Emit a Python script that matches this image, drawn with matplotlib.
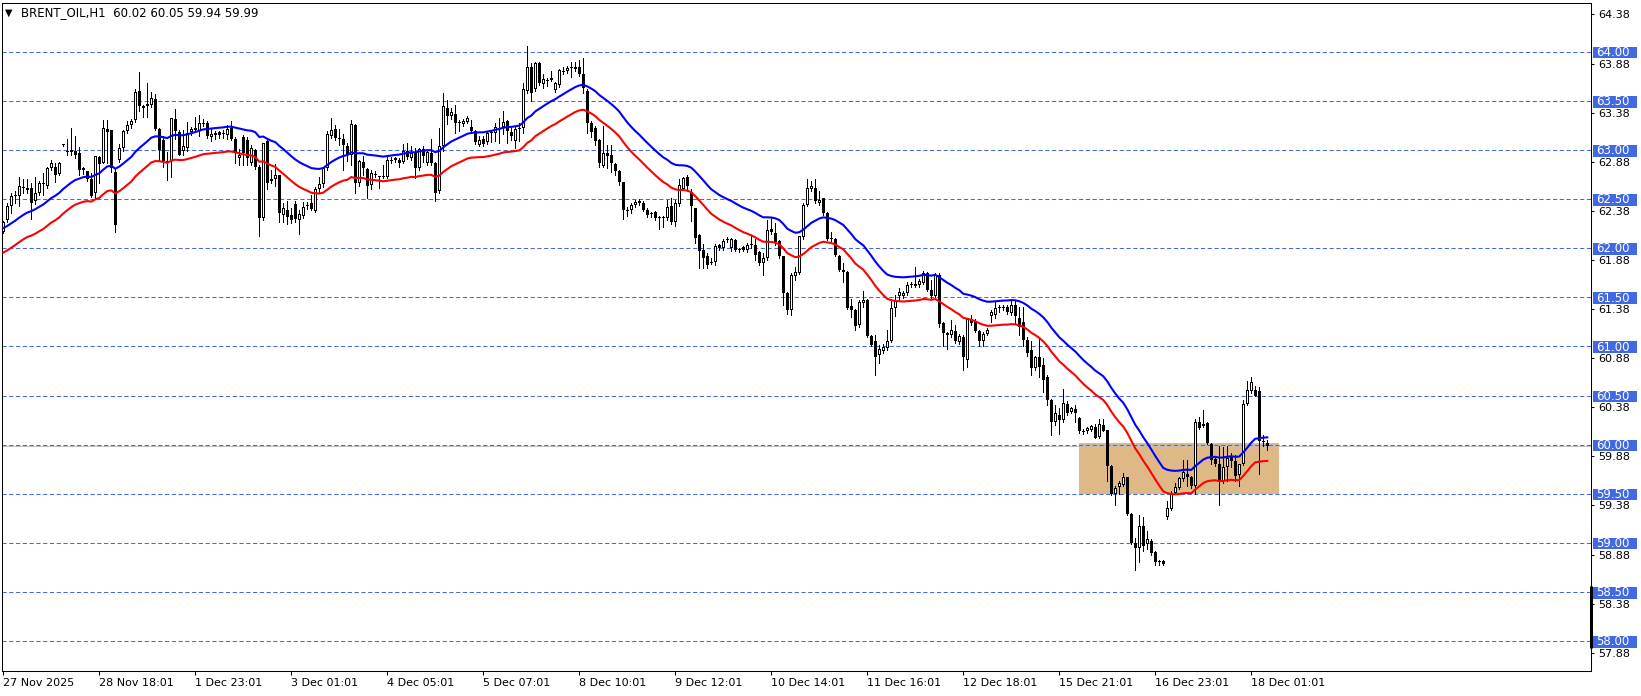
import numpy as np
import matplotlib
matplotlib.use("Agg")
import matplotlib.pyplot as plt
from matplotlib.patches import Rectangle

SYMBOL = "BRENT_OIL,H1"
LAST_OHLC = "60.02 60.05 59.94 59.99"

OPEN = [
    62.17, 62.29, 62.43, 62.53, 62.53, 62.62, 62.61, 62.61, 62.48, 62.56,
    62.65, 62.63, 62.82, 62.83, 62.76, 63.05, 62.98, 62.98, 62.99, 62.97,
    62.82, 62.79, 62.70, 62.56, 62.93, 62.87, 63.21, 63.20, 62.78, 62.90,
    63.02, 63.19, 63.25, 63.31, 63.60, 63.45, 63.45, 63.46, 63.52, 63.21,
    63.10, 62.89, 62.89, 63.32, 63.18, 62.99, 63.02, 63.18, 63.20, 63.19,
    63.26, 63.27, 63.13, 63.15, 63.18, 63.16, 63.15, 63.22, 63.11, 62.92,
    63.13, 63.10, 62.87, 63.00, 62.83, 62.31, 63.09, 62.70, 62.70, 62.75,
    62.34, 62.39, 62.34, 62.45, 62.29, 62.33, 62.43, 62.46, 62.38, 62.60,
    62.65, 62.82, 63.14, 63.21, 63.12, 63.11, 63.04, 62.95, 63.25, 62.66,
    62.88, 62.81, 62.64, 62.76, 62.72, 62.74, 62.72, 62.89, 62.90, 62.90,
    62.88, 62.99, 62.92, 62.98, 62.82, 63.01, 62.87, 62.97, 62.87, 62.58,
    63.04, 63.43, 63.35, 63.37, 63.27, 63.26, 63.29, 63.23, 63.19, 63.05,
    63.11, 63.08, 63.17, 63.17, 63.21, 63.23, 63.30, 63.18, 63.09, 63.21,
    63.22, 63.60, 63.85, 63.62, 63.89, 63.67, 63.70, 63.71, 63.61, 63.66,
    63.80, 63.80, 63.83, 63.82, 63.85, 63.77, 63.60, 63.28, 63.22, 63.10,
    62.84, 62.97, 62.95, 62.86, 62.79, 62.67, 62.39, 62.39, 62.44, 62.46,
    62.46, 62.39, 62.35, 62.37, 62.31, 62.31, 62.31, 62.43, 62.27, 62.45,
    62.60, 62.73, 62.57, 62.41, 62.13, 61.98, 61.92, 61.86, 61.86, 62.03,
    62.00, 62.08, 62.00, 62.08, 61.99, 62.01, 61.98, 62.03, 62.03, 61.96,
    61.85, 61.90, 62.20, 62.15, 62.07, 61.92, 61.54, 61.37, 61.72, 61.75,
    62.11, 62.44, 62.60, 62.61, 62.46, 62.51, 62.36, 62.10, 62.09, 61.92,
    61.78, 61.76, 61.41, 61.37, 61.22, 61.44, 61.47, 61.11, 61.05, 60.91,
    60.95, 60.98, 61.06, 61.39, 61.51, 61.51, 61.54, 61.63, 61.62, 61.63,
    61.65, 61.75, 61.57, 61.51, 61.73, 61.24, 61.14, 61.12, 61.16, 61.04,
    61.10, 60.86, 61.28, 61.26, 61.16, 61.05, 61.13, 61.31, 61.32, 61.39,
    61.39, 61.40, 61.34, 61.42, 61.29, 61.25, 61.07, 60.96, 60.78, 60.89,
    60.81, 60.69, 60.45, 60.23, 60.30, 60.25, 60.41, 60.33, 60.36, 60.27,
    60.14, 60.14, 60.15, 60.18, 60.08, 60.20, 60.15, 59.78, 59.50, 59.57,
    59.59, 59.67, 59.29, 59.00, 58.95, 59.17, 58.99, 59.02, 58.91, 58.80,
    58.81, 59.26, 59.34, 59.51, 59.56, 59.65, 59.70, 59.67, 59.58, 60.23,
    60.19, 60.22, 60.01, 59.85, 59.80, 59.63, 59.77, 59.87, 59.83, 59.69,
    59.80, 60.41, 60.55, 60.56, 60.55, 60.04, 60.02,
]

HIGH = [
    62.28, 62.46, 62.56, 62.58, 62.73, 62.70, 62.70, 62.66, 62.73, 62.68,
    62.77, 62.83, 62.90, 62.87, 62.88, 63.06, 63.11, 63.22, 63.14, 63.03,
    62.83, 62.79, 62.77, 62.94, 62.94, 63.31, 63.31, 63.20, 62.82, 63.06,
    63.20, 63.30, 63.32, 63.62, 63.79, 63.46, 63.68, 63.59, 63.57, 63.22,
    63.14, 62.98, 63.33, 63.42, 63.20, 63.20, 63.29, 63.23, 63.34, 63.36,
    63.32, 63.30, 63.21, 63.19, 63.19, 63.20, 63.25, 63.30, 63.13, 63.01,
    63.15, 63.13, 63.05, 63.01, 62.85, 63.07, 63.11, 62.80, 62.86, 62.75,
    62.46, 62.48, 62.41, 62.48, 62.39, 62.47, 62.47, 62.54, 62.62, 62.72,
    62.83, 63.19, 63.33, 63.25, 63.21, 63.16, 63.07, 63.31, 63.26, 62.90,
    62.94, 62.82, 62.80, 62.79, 62.74, 62.85, 62.94, 62.93, 62.93, 62.92,
    63.06, 63.07, 63.04, 63.02, 63.02, 63.04, 63.00, 63.11, 62.88, 63.22,
    63.58, 63.51, 63.43, 63.46, 63.31, 63.32, 63.35, 63.31, 63.20, 63.14,
    63.14, 63.18, 63.20, 63.27, 63.33, 63.40, 63.31, 63.22, 63.24, 63.28,
    63.68, 64.06, 63.89, 63.90, 63.90, 63.77, 63.73, 63.80, 63.69, 63.82,
    63.85, 63.86, 63.90, 63.90, 63.92, 63.94, 63.62, 63.30, 63.24, 63.11,
    63.24, 63.05, 63.05, 62.87, 62.80, 62.67, 62.42, 62.46, 62.49, 62.50,
    62.48, 62.41, 62.37, 62.38, 62.33, 62.33, 62.49, 62.51, 62.49, 62.70,
    62.73, 62.75, 62.60, 62.41, 62.14, 62.04, 61.95, 61.90, 62.04, 62.04,
    62.09, 62.11, 62.10, 62.09, 62.00, 62.02, 62.05, 62.12, 62.09, 61.97,
    61.95, 62.29, 62.31, 62.26, 62.08, 61.92, 61.55, 61.75, 61.81, 62.12,
    62.46, 62.70, 62.68, 62.70, 62.58, 62.51, 62.37, 62.17, 62.10, 61.93,
    61.85, 61.77, 61.48, 61.38, 61.47, 61.56, 61.48, 61.12, 61.12, 61.01,
    61.02, 61.17, 61.47, 61.52, 61.59, 61.56, 61.66, 61.66, 61.81, 61.69,
    61.77, 61.76, 61.68, 61.75, 61.75, 61.25, 61.15, 61.27, 61.22, 61.13,
    61.12, 61.28, 61.32, 61.28, 61.17, 61.15, 61.19, 61.37, 61.46, 61.42,
    61.42, 61.42, 61.46, 61.46, 61.40, 61.40, 61.10, 61.06, 60.90, 61.08,
    60.88, 60.71, 60.46, 60.40, 60.37, 60.57, 60.44, 60.38, 60.40, 60.28,
    60.16, 60.18, 60.20, 60.21, 60.26, 60.26, 60.15, 59.79, 59.58, 59.63,
    59.71, 59.67, 59.30, 59.05, 59.28, 59.26, 59.12, 59.04, 58.92, 58.82,
    58.82, 59.43, 59.53, 59.61, 59.67, 59.84, 59.84, 59.68, 60.26, 60.28,
    60.35, 60.23, 60.02, 59.86, 59.99, 59.98, 59.99, 59.91, 59.89, 59.80,
    60.45, 60.65, 60.69, 60.60, 60.59, 60.10, 60.05,
]

LOW = [
    62.15, 62.27, 62.36, 62.46, 62.43, 62.56, 62.56, 62.30, 62.45, 62.54,
    62.54, 62.61, 62.80, 62.67, 62.75, 63.04, 62.95, 62.95, 62.92, 62.75,
    62.76, 62.68, 62.52, 62.51, 62.66, 62.87, 62.87, 62.78, 62.17, 62.88,
    62.99, 63.17, 63.22, 63.29, 63.40, 63.34, 63.34, 63.44, 63.20, 62.90,
    62.83, 62.69, 62.73, 63.11, 62.95, 62.95, 62.99, 63.15, 63.19, 63.14,
    63.24, 63.12, 63.09, 63.11, 63.12, 63.12, 63.11, 63.10, 62.87, 62.85,
    62.85, 62.85, 62.85, 62.81, 62.12, 62.29, 62.60, 62.66, 62.63, 62.27,
    62.27, 62.25, 62.26, 62.27, 62.14, 62.31, 62.40, 62.39, 62.37, 62.57,
    62.62, 62.80, 63.12, 63.10, 63.05, 62.80, 62.89, 62.85, 62.56, 62.63,
    62.75, 62.51, 62.60, 62.73, 62.61, 62.71, 62.71, 62.87, 62.88, 62.83,
    62.87, 62.91, 62.90, 62.71, 62.80, 62.88, 62.85, 62.85, 62.48, 62.56,
    62.99, 63.26, 63.32, 63.17, 63.19, 63.24, 63.28, 63.17, 63.06, 63.04,
    63.04, 63.06, 63.08, 63.09, 63.07, 63.16, 63.07, 63.10, 63.02, 63.09,
    63.17, 63.58, 63.50, 63.60, 63.66, 63.63, 63.65, 63.70, 63.59, 63.64,
    63.77, 63.78, 63.74, 63.80, 63.75, 63.58, 63.17, 63.13, 63.05, 62.83,
    62.83, 62.82, 62.78, 62.75, 62.64, 62.30, 62.33, 62.36, 62.42, 62.44,
    62.38, 62.32, 62.32, 62.29, 62.20, 62.22, 62.29, 62.25, 62.23, 62.43,
    62.59, 62.58, 62.28, 62.05, 61.80, 61.80, 61.80, 61.84, 61.83, 61.98,
    61.98, 62.06, 61.97, 61.97, 61.96, 61.97, 61.96, 62.00, 61.88, 61.83,
    61.73, 61.88, 62.14, 62.03, 61.90, 61.42, 61.33, 61.32, 61.68, 61.74,
    62.09, 62.43, 62.58, 62.46, 62.44, 62.34, 62.08, 62.07, 61.92, 61.77,
    61.66, 61.38, 61.30, 61.17, 61.20, 61.40, 61.10, 61.00, 60.71, 60.83,
    60.93, 60.96, 61.04, 61.31, 61.46, 61.49, 61.52, 61.61, 61.61, 61.61,
    61.64, 61.56, 61.49, 61.50, 61.20, 61.00, 60.97, 61.10, 61.03, 61.02,
    60.76, 60.79, 61.22, 61.15, 61.00, 61.00, 61.12, 61.25, 61.29, 61.35,
    61.37, 61.33, 61.32, 61.23, 61.12, 61.00, 60.90, 60.71, 60.76, 60.69,
    60.54, 60.40, 60.10, 60.20, 60.11, 60.23, 60.30, 60.32, 60.23, 60.12,
    60.11, 60.12, 60.14, 60.07, 60.07, 60.14, 59.63, 59.49, 59.39, 59.50,
    59.58, 59.28, 58.99, 58.72, 58.80, 58.92, 58.94, 58.88, 58.77, 58.77,
    58.77, 59.24, 59.33, 59.50, 59.55, 59.63, 59.58, 59.56, 59.50, 60.16,
    60.18, 60.01, 59.80, 59.78, 59.39, 59.61, 59.63, 59.77, 59.63, 59.58,
    59.79, 60.40, 60.53, 60.49, 59.70, 59.99, 59.94,
]

CLOSE = [
    62.27, 62.43, 62.53, 62.54, 62.63, 62.61, 62.59, 62.46, 62.56, 62.66,
    62.65, 62.82, 62.87, 62.75, 62.87, 63.05, 62.99, 63.00, 62.95, 62.80,
    62.80, 62.70, 62.53, 62.94, 62.86, 63.22, 63.18, 62.82, 62.24, 63.02,
    63.19, 63.25, 63.30, 63.59, 63.45, 63.43, 63.47, 63.53, 63.21, 63.00,
    62.89, 62.87, 63.33, 63.19, 62.95, 63.04, 63.17, 63.21, 63.22, 63.27,
    63.28, 63.14, 63.16, 63.17, 63.15, 63.16, 63.21, 63.11, 62.97, 62.95,
    62.97, 62.92, 63.02, 62.83, 62.31, 63.07, 62.66, 62.68, 62.75, 62.36,
    62.41, 62.32, 62.29, 62.30, 62.35, 62.42, 62.44, 62.40, 62.60, 62.65,
    62.82, 63.16, 63.20, 63.12, 63.11, 63.05, 62.95, 63.26, 62.66, 62.89,
    62.82, 62.63, 62.77, 62.75, 62.73, 62.72, 62.90, 62.89, 62.92, 62.87,
    62.99, 62.93, 62.97, 62.82, 63.01, 62.94, 62.98, 62.87, 62.56, 63.04,
    63.45, 63.35, 63.39, 63.27, 63.27, 63.30, 63.33, 63.19, 63.08, 63.10,
    63.06, 63.17, 63.17, 63.23, 63.22, 63.29, 63.19, 63.14, 63.21, 63.22,
    63.62, 63.85, 63.58, 63.89, 63.68, 63.72, 63.71, 63.73, 63.68, 63.81,
    63.79, 63.84, 63.83, 63.85, 63.77, 63.63, 63.28, 63.18, 63.09, 62.87,
    62.97, 62.94, 62.87, 62.79, 62.67, 62.39, 62.38, 62.44, 62.47, 62.48,
    62.39, 62.34, 62.35, 62.31, 62.31, 62.31, 62.42, 62.27, 62.46, 62.64,
    62.71, 62.63, 62.43, 62.10, 61.97, 61.90, 61.83, 61.85, 62.02, 62.00,
    62.07, 62.09, 62.09, 61.98, 61.98, 61.98, 62.03, 62.03, 61.93, 61.85,
    61.90, 62.19, 62.16, 62.06, 61.92, 61.54, 61.37, 61.73, 61.76, 62.12,
    62.44, 62.61, 62.63, 62.48, 62.49, 62.36, 62.09, 62.09, 61.93, 61.78,
    61.76, 61.39, 61.37, 61.21, 61.45, 61.47, 61.11, 61.01, 60.89, 60.97,
    60.99, 61.06, 61.39, 61.46, 61.55, 61.54, 61.63, 61.64, 61.64, 61.67,
    61.75, 61.57, 61.51, 61.73, 61.23, 61.14, 61.12, 61.17, 61.05, 61.11,
    60.89, 61.28, 61.24, 61.16, 61.05, 61.13, 61.17, 61.35, 61.39, 61.39,
    61.40, 61.35, 61.42, 61.31, 61.20, 61.07, 60.93, 60.78, 60.89, 60.79,
    60.66, 60.45, 60.23, 60.32, 60.25, 60.42, 60.32, 60.37, 60.32, 60.14,
    60.13, 60.17, 60.19, 60.07, 60.21, 60.14, 59.78, 59.50, 59.56, 59.61,
    59.67, 59.29, 59.00, 58.95, 59.17, 58.97, 59.04, 58.90, 58.80, 58.80,
    58.78, 59.35, 59.50, 59.57, 59.66, 59.72, 59.67, 59.58, 60.23, 60.17,
    60.21, 60.02, 59.84, 59.80, 59.63, 59.77, 59.86, 59.83, 59.68, 59.80,
    60.41, 60.56, 60.64, 60.50, 60.04, 60.03, 59.99,
]

# moving-average envelope: EMA of closes (+/- deviation), starting from
# the value the indicator shows at the left edge of the chart
MA_PERIOD = 30
MA_START = 62.08
ENV_DEV = 0.002

LEVELS = [58.0, 58.5, 59.0, 59.5, 60.0, 60.5, 61.0, 61.5, 62.0, 62.5, 63.0, 63.5, 64.0]
BID = 59.99
YTICKS = [57.88, 58.38, 58.88, 59.38, 59.88, 60.38, 60.88, 61.38, 61.88,
          62.38, 62.88, 63.38, 63.88, 64.38]
XTICK_BARS = [0, 24, 48, 72, 96, 120, 144, 168, 192, 216, 240, 264, 288, 312]
XTICK_LABELS = ["27 Nov 2025", "28 Nov 18:01", "1 Dec 23:01", "3 Dec 01:01",
                "4 Dec 05:01", "5 Dec 07:01", "8 Dec 10:01", "9 Dec 12:01",
                "10 Dec 14:01", "11 Dec 16:01", "12 Dec 18:01", "15 Dec 21:01",
                "16 Dec 23:01", "18 Dec 01:01"]
ZONE_X = [268.9, 318.9]
ZONE_Y = [59.50, 60.02]

# ---------------------------------------------------------------------------
W, H = 1641, 696
fig = plt.figure(figsize=(W / 100, H / 100), dpi=100)
fig.patch.set_facecolor("white")
ax = fig.add_axes([2 / W, 1 - 671 / H, 1589 / W, 668 / H])
ax.set_facecolor("white")

YLIM = (57.6945, 64.497)
PX = (YLIM[1] - YLIM[0]) / 668.0  # one pixel in price units

o = np.array(OPEN)
h = np.array(HIGH)
l = np.array(LOW)
c = np.array(CLOSE)
x = np.arange(len(c))

# zone
ax.add_patch(Rectangle((ZONE_X[0], ZONE_Y[0]), ZONE_X[1] - ZONE_X[0], ZONE_Y[1] - ZONE_Y[0],
                       facecolor="#DEB887", edgecolor="none", zorder=0.5))

# bid line and level lines
ax.axhline(BID, color="#C0C0C0", lw=0.75, zorder=0.9)
for lv in LEVELS:
    ax.axhline(lv, color="#4169E1", lw=0.75, linestyle=(0, (4, 2.5)), zorder=1)

# candles
top = np.maximum(h, np.maximum(o, c))
bot = np.minimum(l, np.minimum(o, c))
ax.vlines(x, bot, top, color="black", lw=0.72, zorder=3, antialiased=False)
lo_b = np.minimum(o, c)
hi_b = np.maximum(o, c)
body = np.maximum(hi_b - lo_b, PX)
ax.bar(x, body, bottom=lo_b, width=0.75, facecolor="black", edgecolor="none",
       linewidth=0, zorder=3.1, antialiased=False)
hollow = (c > o) & ((c - o) > 2.5 * PX)
ax.bar(x[hollow], (c - o)[hollow] - 2 * PX, bottom=o[hollow] + PX, width=0.25,
       facecolor="white", edgecolor="none", linewidth=0, zorder=3.2, antialiased=False)

# envelope (EMA)
alpha = 2.0 / (MA_PERIOD + 1)
mid = np.empty(len(c))
mid[0] = MA_START
for i in range(1, len(c)):
    mid[i] = mid[i - 1] + alpha * (c[i] - mid[i - 1])
ax.plot(x, mid * (1 + ENV_DEV), color="#0000FF", lw=1.5, zorder=4)
ax.plot(x, mid * (1 - ENV_DEV), color="#FF0000", lw=1.5, zorder=4)

ax.set_xlim(-0.325, 396.93)
ax.set_ylim(*YLIM)

for s in ax.spines.values():
    s.set_color("black")
    s.set_linewidth(0.75)

ax.yaxis.tick_right()
ax.set_yticks(YTICKS)
ax.set_yticklabels([f"{v:.2f}" for v in YTICKS])
ax.tick_params(axis="y", direction="out", length=2, width=0.75, pad=3,
               labelsize=8, colors="black")
ax.set_xticks(XTICK_BARS)
ax.set_xticklabels(XTICK_LABELS)
for t in ax.get_xticklabels():
    t.set_ha("left")
ax.tick_params(axis="x", direction="out", length=3, width=0.75, pad=2,
               labelsize=8, colors="black")

# level price boxes on the right scale
trans = ax.get_yaxis_transform()
aw = 1589.0
for lv in LEVELS:
    ax.add_patch(Rectangle((1 + 2 / aw, lv - 0.068), 44 / aw, 0.118, transform=trans,
                           facecolor="#4169E1", edgecolor="none", clip_on=False, zorder=5))
    ax.text(1 + 5 / aw, lv - 0.008, f"{lv:.2f}", transform=trans, color="white",
            fontsize=8.5, ha="left", va="center", clip_on=False, zorder=6)

ax.plot([1, 1], [57.93, 58.56], transform=trans, color="black", lw=2.2,
        solid_capstyle="butt", clip_on=False, zorder=6)

# header
fig.text(5 / W, 1 - 13 / H, "\u25BC", fontsize=7, va="center", ha="left", color="black")
fig.text(21 / W, 1 - 13 / H, f"{SYMBOL}  {LAST_OHLC}", fontsize=8.5, va="center",
         ha="left", color="black")

fig.savefig("out.png", dpi=100, facecolor="white")
